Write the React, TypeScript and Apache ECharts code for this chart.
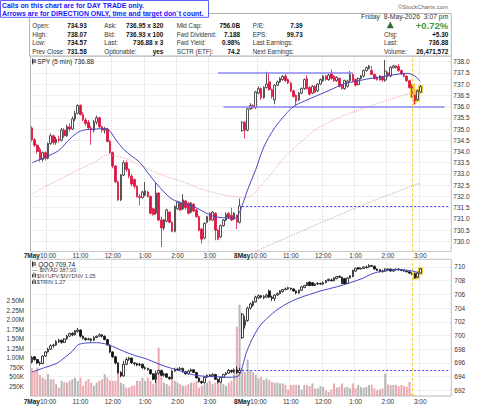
import React, { useEffect, useRef } from 'react';
import * as echarts from 'echarts';

const FONT = '"Liberation Sans", Arial, Helvetica, sans-serif';

// ---------- tick labels ----------
const dayLabels = ['7May', '8May'];
const hourLabels = ['10:00', '11:00', '12:00', '1:00', '2:00', '3:00'];

// ---------- SPY 5-min candles, [open, close, low, high] ----------
const spyDay1 = [
  [735.05, 734.52, 734.45, 735.12], [734.52, 734.28, 734.2, 734.6], [734.28, 734.0, 733.9, 734.35], [734.1, 733.65, 733.55, 734.2],
  [733.65, 733.95, 733.55, 734.0], [733.95, 733.7, 733.6, 734.0], [733.7, 734.35, 733.65, 734.4], [734.35, 734.7, 734.3, 734.8],
  [734.7, 734.4, 734.3, 734.75], [734.4, 734.55, 734.3, 734.65], [734.55, 734.5, 734.4, 734.7], [734.5, 734.95, 734.45, 735.05],
  [734.95, 734.7, 734.6, 735.05], [734.7, 735.1, 734.65, 735.2], [735.1, 735.0, 734.9, 735.25], [735.0, 735.45, 734.95, 735.55],
  [735.45, 735.7, 735.35, 735.8], [735.7, 736.05, 735.65, 736.1], [736.05, 735.65, 735.6, 736.1], [735.65, 735.4, 735.35, 735.75],
  [735.4, 735.25, 735.15, 735.5], [735.3, 735.05, 735.0, 735.4], [735.05, 734.95, 734.3, 735.15], [734.95, 735.3, 734.85, 735.4],
  [735.3, 735.5, 735.2, 735.6], [735.5, 735.1, 735.05, 735.55], [735.1, 734.95, 734.85, 735.15], [734.95, 735.0, 734.8, 735.1],
  [735.0, 734.45, 734.4, 735.05], [734.45, 733.95, 733.9, 734.5], [733.95, 733.35, 733.25, 734.0], [733.35, 732.65, 732.6, 733.4],
  [732.65, 731.85, 731.8, 732.7], [731.85, 732.95, 731.8, 733.0], [732.95, 733.5, 732.9, 733.6], [733.5, 733.2, 733.1, 733.6],
  [733.2, 732.9, 732.8, 733.25], [732.9, 732.55, 732.45, 733.0], [732.75, 732.45, 732.35, 732.8], [732.45, 732.0, 731.95, 732.5],
  [732.0, 731.95, 731.6, 732.1], [731.95, 732.2, 731.9, 732.25], [732.05, 732.25, 732.0, 732.65], [732.2, 732.0, 731.95, 732.25],
  [732.0, 731.25, 731.2, 732.05], [731.45, 731.2, 731.15, 731.5], [731.25, 732.15, 731.2, 732.6], [732.15, 730.95, 730.9, 732.2],
  [730.95, 730.6, 729.75, 731.1], [730.6, 730.95, 730.5, 731.0], [730.9, 731.4, 730.85, 731.45], [731.3, 730.85, 730.8, 731.35],
  [730.85, 730.45, 730.4, 730.9], [730.45, 731.55, 730.4, 731.6], [731.45, 731.75, 731.4, 731.8], [731.7, 731.4, 731.35, 731.75],
  [731.45, 731.85, 731.4, 732.1], [731.8, 731.5, 731.4, 731.85], [731.7, 731.25, 731.2, 731.75], [731.3, 731.7, 731.25, 731.75],
  [731.65, 731.35, 731.3, 731.7], [731.4, 731.1, 731.05, 731.45], [731.1, 730.5, 730.45, 731.15], [730.55, 730.1, 729.9, 730.6],
  [730.15, 730.8, 730.1, 730.85], [730.85, 731.1, 730.8, 731.15], [731.25, 730.95, 730.9, 731.3], [730.95, 731.3, 730.9, 731.35],
  [731.25, 730.5, 730.05, 731.3], [730.5, 730.1, 730.05, 730.55], [730.2, 730.7, 730.15, 730.75], [730.7, 730.95, 730.65, 731.0],
  [730.95, 731.2, 730.9, 731.3], [731.25, 731.05, 731.0, 731.3], [731.15, 730.95, 730.9, 731.5], [731.0, 731.25, 730.95, 731.3],
  [731.15, 730.85, 730.55, 731.2], [730.85, 731.58, 730.8, 731.9],
];
const spyDay2 = [
  [734.93, 735.3, 734.88, 735.35], [735.3, 734.95, 734.57, 735.35], [734.95, 735.9, 734.9, 735.95], [735.9, 736.05, 735.85, 736.15],
  [736.05, 735.95, 735.9, 736.1], [735.95, 736.65, 735.9, 736.7], [736.6, 736.8, 736.55, 736.9], [736.8, 736.4, 736.3, 736.85],
  [736.4, 736.85, 736.35, 736.9], [736.85, 737.0, 736.8, 737.55], [737.1, 736.75, 736.7, 737.5], [736.75, 736.45, 736.35, 736.8],
  [736.3, 736.95, 736.1, 737.0], [736.95, 737.1, 736.9, 737.15], [737.1, 737.25, 737.05, 737.3], [737.2, 737.35, 737.15, 737.4],
  [737.35, 737.15, 737.1, 737.45], [737.2, 737.05, 737.0, 737.25], [737.05, 736.7, 736.65, 737.1], [736.7, 736.45, 736.4, 736.75],
  [736.5, 736.25, 736.05, 736.55], [736.3, 736.6, 736.25, 736.65], [736.6, 736.8, 736.55, 736.85], [736.8, 737.2, 736.75, 737.25],
  [737.25, 736.8, 736.75, 737.4], [736.85, 736.55, 736.5, 736.9], [736.6, 736.9, 736.55, 736.95], [736.9, 736.65, 736.6, 736.95],
  [736.7, 737.0, 736.65, 737.05], [737.0, 737.2, 736.95, 737.25], [737.15, 737.35, 737.1, 737.4], [737.35, 737.2, 737.15, 737.4],
  [737.2, 737.4, 737.15, 737.45], [737.5, 737.25, 737.2, 737.65], [737.35, 737.15, 737.1, 737.4], [737.15, 737.3, 737.1, 737.35],
  [737.25, 736.9, 736.85, 737.3], [736.95, 736.8, 736.75, 737.0], [736.8, 737.15, 736.75, 737.2], [736.9, 737.13, 736.85, 737.2],
  [737.15, 737.43, 737.1, 737.58], [737.43, 737.15, 737.1, 737.48], [737.2, 736.95, 736.9, 737.25], [736.98, 737.25, 736.95, 737.3],
  [737.25, 737.36, 737.2, 737.4], [737.36, 737.6, 737.3, 737.65], [737.6, 737.73, 737.55, 737.78], [737.7, 737.8, 737.65, 737.85],
  [737.6, 737.43, 737.4, 737.81], [737.43, 737.25, 737.2, 737.48], [737.3, 737.2, 737.15, 737.35], [737.2, 737.36, 737.15, 737.4],
  [737.33, 737.18, 737.1, 737.38], [737.18, 737.58, 737.1, 738.07], [737.5, 737.36, 737.3, 737.55], [737.36, 737.75, 737.3, 737.8],
  [737.73, 737.81, 737.7, 737.86], [737.81, 737.73, 737.68, 737.85], [737.78, 737.6, 737.55, 737.9], [737.6, 737.45, 737.4, 737.65],
  [737.45, 737.35, 737.3, 737.5], [737.35, 737.15, 737.1, 737.4], [737.15, 736.85, 736.8, 737.2], [736.95, 736.45, 736.4, 737.0],
  [736.5, 736.25, 736.09, 736.55], [736.3, 736.7, 736.25, 736.75], [736.65, 736.88, 736.6, 736.95],
];

// ---------- QQQ 5-min candles, [open, close, low, high] ----------
const qqqDay1 = [
  [696.1, 696.8, 695.9, 697.0], [696.9, 696.5, 696.3, 697.0], [696.5, 696.0, 695.8, 696.6], [696.0, 695.9, 695.6, 696.2],
  [695.9, 697.0, 695.8, 697.1], [697.0, 697.6, 696.9, 697.7], [697.6, 698.0, 697.5, 698.2], [698.0, 698.5, 697.9, 698.7],
  [698.5, 698.6, 698.2, 698.8], [698.6, 699.1, 698.5, 699.3], [699.1, 699.3, 698.9, 699.5], [699.3, 699.0, 698.8, 699.4],
  [699.0, 699.5, 698.9, 699.6], [699.5, 699.9, 699.4, 700.1], [699.9, 700.3, 699.8, 700.4], [700.3, 700.1, 699.9, 700.5],
  [700.1, 700.7, 700.0, 700.8], [700.6, 700.8, 700.4, 701.1], [700.8, 699.9, 699.7, 700.9], [699.9, 699.6, 699.4, 700.0],
  [699.6, 699.4, 699.2, 699.7], [699.4, 699.5, 699.3, 699.7], [699.5, 699.3, 699.1, 699.6], [699.3, 699.7, 699.2, 699.9],
  [699.7, 699.9, 699.6, 700.0], [699.9, 700.1, 699.8, 700.3], [700.1, 699.9, 699.7, 700.2], [699.9, 699.4, 699.3, 700.0],
  [699.4, 698.6, 698.5, 699.5], [698.6, 697.6, 697.4, 698.7], [697.6, 696.9, 696.7, 697.7], [696.9, 696.0, 695.8, 697.0],
  [696.0, 694.6, 694.4, 696.1], [694.6, 694.1, 693.9, 694.8], [694.1, 695.8, 694.0, 696.3], [695.8, 696.5, 695.7, 696.8],
  [696.5, 696.7, 696.3, 696.9], [696.7, 696.0, 695.9, 696.8], [696.0, 695.9, 695.6, 696.1], [695.9, 695.7, 695.5, 696.0],
  [695.7, 695.8, 695.5, 696.0], [695.8, 695.3, 695.1, 695.9], [695.3, 695.2, 695.0, 695.5], [695.2, 695.0, 694.9, 695.3],
  [695.0, 694.4, 694.3, 695.1], [694.4, 693.6, 693.5, 694.5], [693.6, 694.5, 693.1, 694.9], [694.5, 694.9, 694.3, 695.0],
  [694.9, 694.2, 694.1, 695.0], [694.2, 694.4, 694.0, 694.6], [694.4, 693.9, 693.8, 694.5], [693.9, 693.7, 693.5, 694.0],
  [693.7, 694.8, 693.6, 695.0], [694.8, 695.1, 694.7, 695.3], [695.1, 695.0, 694.9, 695.3], [695.0, 695.2, 694.9, 695.4],
  [695.2, 694.7, 694.6, 695.3], [694.7, 694.4, 694.3, 694.8], [694.4, 694.8, 694.3, 695.0], [694.8, 695.0, 694.7, 695.2],
  [695.0, 694.6, 694.5, 695.1], [694.6, 693.8, 693.7, 694.7], [693.8, 693.3, 693.1, 693.9], [693.3, 693.1, 692.9, 693.4],
  [693.1, 693.9, 693.0, 694.1], [693.9, 694.2, 693.8, 694.3], [694.2, 694.1, 694.0, 694.4], [694.1, 694.3, 694.0, 694.5],
  [694.3, 693.6, 693.5, 694.4], [693.6, 693.2, 693.0, 693.7], [693.2, 693.9, 693.1, 694.0], [693.9, 694.3, 693.8, 694.4],
  [694.3, 694.5, 694.2, 694.7], [694.5, 694.9, 694.4, 695.1], [694.9, 694.7, 694.5, 695.0], [694.7, 695.0, 694.6, 695.2],
  [695.0, 694.6, 694.4, 695.5], [694.6, 694.9, 694.4, 695.3],
];
const qqqDay2 = [
  [699.7, 703.1, 699.5, 703.3], [701.5, 702.2, 701.0, 702.8], [702.2, 704.0, 702.0, 704.2], [704.0, 704.6, 703.8, 704.8],
  [704.4, 704.9, 704.2, 705.1], [704.9, 705.6, 704.8, 705.8], [705.5, 705.8, 705.3, 706.0], [705.8, 705.6, 705.4, 705.9],
  [705.5, 705.7, 705.3, 705.9], [705.6, 705.9, 705.5, 706.1], [706.5, 705.6, 705.5, 706.7], [705.6, 705.4, 705.0, 705.8],
  [705.4, 705.9, 705.0, 706.0], [705.9, 706.1, 705.8, 706.3], [706.1, 706.5, 706.0, 706.6], [706.4, 706.7, 706.3, 706.8],
  [706.7, 706.8, 706.6, 707.0], [706.8, 707.0, 706.7, 707.1], [706.9, 706.8, 706.6, 707.0], [706.8, 706.5, 706.4, 706.9],
  [706.5, 706.2, 706.0, 706.6], [706.2, 706.6, 706.1, 706.7], [706.6, 707.1, 706.5, 707.2], [707.0, 707.3, 706.9, 707.4],
  [707.3, 707.7, 707.2, 707.8], [707.8, 707.3, 707.2, 707.9], [707.7, 707.3, 707.2, 707.8], [707.3, 707.5, 707.2, 707.6],
  [707.5, 707.6, 707.4, 707.8], [707.6, 707.5, 707.4, 707.7], [707.5, 707.7, 707.4, 707.9], [707.7, 708.0, 707.6, 708.1],
  [708.0, 708.2, 707.9, 708.3], [708.1, 708.0, 707.9, 708.3], [708.0, 708.4, 707.9, 708.5], [708.3, 708.6, 708.2, 708.7],
  [708.6, 708.5, 708.4, 708.8], [708.5, 707.6, 707.5, 708.6], [708.3, 707.5, 707.4, 708.4], [707.6, 708.4, 707.5, 708.5],
  [708.4, 708.7, 708.3, 708.8], [708.6, 709.5, 708.5, 709.6], [709.4, 709.8, 709.3, 709.9], [709.9, 709.7, 709.6, 710.0],
  [709.7, 709.8, 709.6, 709.9], [709.8, 710.0, 709.7, 710.1], [709.9, 710.0, 709.8, 710.2], [710.0, 710.2, 709.9, 710.4],
  [710.2, 710.1, 710.0, 710.3], [710.1, 709.7, 709.6, 710.2], [709.7, 709.5, 709.4, 709.8], [709.6, 709.3, 709.2, 709.7],
  [709.3, 709.4, 709.2, 709.6], [709.4, 709.7, 709.3, 709.8], [709.7, 709.6, 709.5, 709.8], [709.7, 709.4, 709.3, 709.8],
  [709.4, 709.6, 709.3, 709.7], [709.6, 709.7, 709.5, 709.8], [709.7, 709.6, 709.5, 709.8], [709.6, 709.5, 709.4, 709.7],
  [709.5, 709.4, 709.3, 709.6], [709.4, 709.3, 709.2, 709.5], [709.3, 709.1, 709.0, 709.4], [709.1, 708.9, 708.8, 709.2],
  [709.0, 708.4, 708.3, 709.1], [708.5, 709.1, 708.4, 709.2], [709.1, 709.74, 709.0, 709.8],
];

// ---------- SPY volume per bar (millions) ----------
const volDay1 = [
  0.73, 0.66, 0.75, 0.55, 0.48, 0.44, 0.57, 0.44, 0.44, 0.31,
  0.22, 0.40, 0.37, 0.35, 0.40, 0.44, 0.48, 0.40, 0.48, 0.27,
  0.40, 0.44, 0.35, 0.27, 0.35, 0.40, 0.44, 0.57, 0.48, 0.40,
  0.40, 0.40, 0.66, 0.35, 0.31, 0.22, 0.22, 0.27, 0.27, 0.40,
  0.40, 0.48, 0.40, 0.48, 0.40, 0.31, 0.57, 1.27, 0.66, 0.35,
  0.31, 0.27, 0.57, 0.40, 0.35, 0.31, 0.27, 0.27, 0.31, 0.35,
  0.35, 0.40, 0.22, 0.27, 0.31, 0.35, 0.40, 0.31, 0.35, 0.40,
  0.48, 0.31, 0.27, 0.35, 0.40, 0.66, 1.82, 2.40,
];
const volDay2 = [
  0.72, 0.63, 0.96, 0.68, 0.63, 0.55, 0.46, 0.50, 0.42, 0.46,
  0.42, 0.37, 0.35, 0.35, 0.33, 0.33, 0.29, 0.17, 0.29, 0.29,
  0.29, 0.29, 0.17, 0.29, 0.29, 0.26, 0.33, 0.20, 0.20, 0.26,
  0.24, 0.15, 0.11, 0.17, 0.33, 0.22, 0.24, 0.33, 0.22, 0.24,
  0.20, 0.33, 0.20, 0.29, 0.24, 0.22, 0.24, 0.29, 0.29, 0.20,
  0.15, 0.17, 0.20, 0.59, 0.31, 0.29, 0.29, 0.29, 0.26, 0.29,
  0.26, 0.24, 0.37, 0.07, 0.02, 0, 0,
];

// ---------- overlays: [bar index, value] ----------
const spyMaBlue = [
  [0, 733.5], [5, 733.75], [10, 734.05], [14, 734.55], [17, 734.85], [20, 734.97], [24, 735.0], [27, 735.03],
  [29, 734.9], [31, 734.55], [34, 734.1], [37, 733.8], [40, 733.52], [43, 733.05], [46, 732.6], [49, 732.2],
  [52, 731.88], [56, 731.7], [60, 731.55], [64, 731.3], [67, 731.13], [71, 731.05], [75, 731.03], [77, 731.3],
  [78, 731.6], [80, 732.3], [83, 733.2], [86, 734.2], [90, 735.05], [94, 735.64], [97, 736.0], [101, 736.24],
  [106, 736.5], [111, 736.76], [116, 737.02], [120, 737.12], [125, 737.24], [130, 737.33], [135, 737.43],
  [139, 737.48], [142, 737.36], [144, 737.12],
];
const spyMaPink = [
  [0, 732.1], [6, 732.5], [11, 732.8], [17, 733.18], [23, 733.5], [28, 733.85], [32, 733.78], [36, 733.63],
  [39, 733.45], [44, 733.18], [50, 732.88], [56, 732.66], [62, 732.36], [69, 732.13], [75, 731.99], [79, 731.95],
  [82, 732.1], [85, 732.5], [88, 732.9], [92, 733.5], [95, 733.9], [100, 734.45], [105, 734.95], [110, 735.3],
  [115, 735.57], [120, 735.8], [125, 736.0], [130, 736.22], [135, 736.4], [140, 736.58], [144, 736.64],
];
const spyMaGray = [[81, 729.45], [98, 730.35], [113, 731.13], [128, 731.87], [144, 732.6]];
const qqqMaBlue = [
  [0, 694.65], [5, 695.35], [9, 695.9], [11, 696.42], [15, 697.7], [17, 698.6], [20, 698.9], [24, 698.95],
  [27, 698.8], [30, 698.4], [34, 697.7], [38, 697.1], [42, 696.65], [48, 695.7], [53, 695.05], [57, 694.6],
  [60, 694.25], [64, 694.05], [68, 693.98], [73, 693.9], [76, 693.98], [77, 694.3], [78, 695.4], [80, 698.0],
  [84, 701.1], [88, 702.8], [93, 704.3], [98, 705.3], [103, 706.0], [108, 706.6], [113, 707.1], [118, 707.7],
  [123, 708.4], [126, 709.0], [130, 709.4], [135, 709.6], [140, 709.5], [142, 709.3], [144, 709.2],
];
// drawn level lines: [from bar, to bar, price]
const spyLevels = [[69, 119, 737.5], [71, 153, 736.0]];
const spyPrevClose = 731.58;
const qqqPrevClose = 694.92;
const markerBar = 141;
const spyHighlightFrom = 141;
const qqqHighlightFrom = 142;

// ---------- header texts ----------
const headerRows = [
  ['Open:', '734.93', 'Ask:', '736.95 x 320', 'Mkt Cap:', '756.0B', 'P/E:', '7.39'],
  ['High:', '738.07', 'Bid:', '736.93 x 100', 'Fwd Dividend:', '7.188', 'EPS:', '99.73'],
  ['Low:', '734.57', 'Last:', '736.88 x 3', 'Fwd Yield:', '0.98%', 'Last Earnings:', ''],
  ['Prev Close:', '731.58', 'Optionable:', 'yes', 'SCTR (ETF):', '74.2', 'Next Earnings:', ''],
];
const quoteRows = [['Chg:', '+5.30'], ['Last:', '736.88'], ['Volume:', '26,471,572']];

// ---------- layout ----------
const PLOT_L = 30.5;
const PLOT_RIGHT_GAP = 28.7;
const MAIN_TOP = 56;
const MAIN_H = 195.5;
const LOW_TOP = 259.3;
const LOW_H = 136.7;
const PINK = '#eca9b2';
const GRAY = '#b7b7b7';
const RED = '#dc1440';
const YELLOW = '#f4cf3c';

function txt(text: string, x: number, y: number, o: any = {}) {
  return {
    type: 'text', z: 100, silent: true,
    style: {
      text, x, y,
      fill: o.fill || '#333',
      fontSize: o.size || 6.3,
      fontWeight: o.weight || 'normal',
      fontFamily: FONT,
      align: o.align || 'left',
      verticalAlign: 'middle',
    },
  };
}

function buildOption() {
  const BARS = 78;
  const categories: string[] = [];
  dayLabels.forEach((day) => {
    for (let j = 0; j < BARS; j++) {
      const t = 570 + 5 * j;
      const h = Math.floor(t / 60);
      const m = t % 60;
      categories.push(`${day} ${h > 12 ? h - 12 : h}:${String(m).padStart(2, '0')}`);
    }
  });
  const labelAt: Record<number, string> = {};
  const gridAt = new Set<number>();
  dayLabels.forEach((day, d) => {
    hourLabels.forEach((hl, k) => {
      const idx = d * BARS + 6 + 12 * k;
      gridAt.add(idx);
      if (k === 0) labelAt[d * BARS + 3] = `{d|${day}}${hl}`;
      else labelAt[idx] = hl;
    });
  });

  const spy = [...spyDay1, ...spyDay2];
  const qqq = [...qqqDay1, ...qqqDay2];
  const vol = [...volDay1, ...volDay2];
  const spyHi = spy.map((d, i) => (i >= spyHighlightFrom ? d : '-'));
  const qqqHi = qqq.map((d, i) => (i >= qqqHighlightFrom ? d : '-'));
  const volData = vol.map((v, i) => ({
    value: v,
    itemStyle: { color: spy[i][1] < spy[i][0] ? PINK : GRAY },
  }));

  const xAxis = (gridIndex: number, margin: number) => ({
    type: 'category', gridIndex, data: categories, boundaryGap: true,
    axisLine: { show: false }, axisTick: { show: false },
    axisLabel: {
      interval: (i: number) => labelAt[i] !== undefined,
      formatter: (_v: string, i: number) => labelAt[i] ?? '',
      fontSize: 6.5, fontFamily: FONT, color: '#333', margin,
      rich: { d: { fontWeight: 'bold', fontSize: 6.5, fontFamily: FONT, color: '#222' } },
    },
    splitLine: {
      show: true, interval: (i: number) => gridAt.has(i),
      lineStyle: { color: '#d9d9d9', type: 'dotted', width: 1 },
    },
  });

  const axisText = { fontSize: 6.5, fontFamily: FONT, color: '#333' };
  const dotted = { color: '#dedede', type: 'dotted', width: 1 };

  const maLine = (data: number[][], xi: number, yi: number, color: string, type: any, z: number) => ({
    type: 'line', xAxisIndex: xi, yAxisIndex: yi, data, symbol: 'none', smooth: 0.35,
    lineStyle: { color, width: 1, type }, z, silent: true,
  });

  const catOf = (i: number) => categories[Math.min(i, categories.length - 1)];

  const candleStyle = (up: string, upBorder: string, down: string, downBorder: string, bw: number) => ({
    color: up, color0: down, borderColor: upBorder, borderColor0: downBorder, borderWidth: bw,
  });

  const graphic: any[] = [
    // callout box
    { type: 'rect', z: 99, shape: { x: 0.5, y: 0.5, width: 208, height: 16.8 }, style: { fill: '#fff', stroke: '#5c5cff', lineWidth: 1 } },
    txt('Calls on this chart are for DAY TRADE only.', 2, 5, { size: 6.9, weight: 'bold', fill: '#1818ff' }),
    txt('Arrows are for DIRECTION ONLY, time and target don`t count.', 2, 13.4, { size: 6.9, weight: 'bold', fill: '#1818ff' }),
    txt('©StockCharts.com', 448, 6.5, { size: 6, fill: '#666', align: 'right' }),
    // info box
    { type: 'rect', z: 98, shape: { x: 29.5, y: 13.5, width: 421.8, height: 42.5 }, style: { fill: '#fff', stroke: '#b4b4b4', lineWidth: 1 } },
    txt('Friday  8-May-2026  3:07 pm', 448.3, 16.3, { size: 6.8, align: 'right', fill: '#333' }),
    { type: 'polygon', z: 100, shape: { points: [[386.8, 28.3], [393.8, 28.3], [390.3, 21.6]] }, style: { fill: '#2f6f2f' } },
    txt('+0.72%', 448.3, 25, { size: 9.5, weight: 'bold', align: 'right', fill: '#3c9a3c' }),
  ];
  const rowY = [25, 34, 42.7, 51];
  const labelX = [32.3, 104.3, 176.7, 252.7];
  const valueR = [86.7, 163.3, 240, 302.7];
  headerRows.forEach((row, r) => {
    for (let c = 0; c < 4; c++) {
      graphic.push(txt(row[2 * c], labelX[c], rowY[r], { fill: '#333' }));
      if (row[2 * c + 1]) graphic.push(txt(row[2 * c + 1], valueR[c], rowY[r], { size: 6.4, weight: 'bold', align: 'right', fill: '#111' }));
    }
  });
  quoteRows.forEach((row, r) => {
    graphic.push(txt(row[0], 384, rowY[r + 1], { fill: '#333' }));
    graphic.push(txt(row[1], 448.3, rowY[r + 1], { size: 6.4, weight: 'bold', align: 'right', fill: '#111' }));
  });
  // panel legends
  graphic.push(
    { type: 'line', z: 100, shape: { x1: 32.7, y1: 58.2, x2: 32.7, y2: 64.6 }, style: { stroke: '#222', lineWidth: 0.6 } },
    { type: 'rect', z: 100, shape: { x: 32, y: 59.2, width: 1.4, height: 4.2 }, style: { fill: '#222' } },
    { type: 'rect', z: 100, shape: { x: 34.3, y: 59.6, width: 1.3, height: 3 }, style: { fill: '#fff', stroke: '#222', lineWidth: 0.6 } },
    txt('SPY (5 min) 736.88', 37.3, 61.3, { size: 6.5, fill: '#222' }),
    { type: 'line', z: 100, shape: { x1: 32.7, y1: 261, x2: 32.7, y2: 267.2 }, style: { stroke: '#222', lineWidth: 0.6 } },
    { type: 'rect', z: 100, shape: { x: 32, y: 262, width: 1.4, height: 4.2 }, style: { fill: '#222' } },
    { type: 'rect', z: 100, shape: { x: 34.3, y: 262.4, width: 1.3, height: 3 }, style: { fill: '#fff', stroke: '#222', lineWidth: 0.6 } },
    txt('QQQ 709.74', 38.3, 264, { size: 6.5, fill: '#222' }),
    txt('— $NYAD 387.00', 32.3, 269.6, { size: 5.6, fill: '#444' }),
    { type: 'rect', z: 100, shape: { x: 32, y: 274, width: 0.9, height: 3.4 }, style: { fill: '#333' } },
    { type: 'rect', z: 100, shape: { x: 33.5, y: 272.6, width: 0.9, height: 4.8 }, style: { fill: '#333' } },
    { type: 'rect', z: 100, shape: { x: 35, y: 273.6, width: 0.9, height: 3.8 }, style: { fill: '#333' } },
    txt('$NYUPV:$NYDNV 1.05', 36.8, 275.8, { size: 5.6, fill: '#444' }),
    { type: 'rect', z: 100, shape: { x: 32, y: 280.6, width: 0.9, height: 3.4 }, style: { fill: '#333' } },
    { type: 'rect', z: 100, shape: { x: 33.5, y: 279.2, width: 0.9, height: 4.8 }, style: { fill: '#333' } },
    { type: 'rect', z: 100, shape: { x: 35, y: 280.2, width: 0.9, height: 3.8 }, style: { fill: '#333' } },
    txt('$TRIN 1.27', 36.8, 282.4, { size: 5.6, fill: '#444' }),
  );

  return {
    animation: false,
    backgroundColor: '#ffffff',
    textStyle: { fontFamily: FONT },
    grid: [
      { left: PLOT_L, right: PLOT_RIGHT_GAP, top: MAIN_TOP, height: MAIN_H, show: true, borderColor: '#b4b4b4', borderWidth: 1, backgroundColor: 'transparent' },
      { left: PLOT_L, right: PLOT_RIGHT_GAP, top: LOW_TOP, height: LOW_H, show: true, borderColor: '#b4b4b4', borderWidth: 1, backgroundColor: 'transparent' },
    ],
    xAxis: [xAxis(0, 0.6), xAxis(1, 1.6)],
    yAxis: [
      {
        type: 'value', gridIndex: 0, position: 'right', min: 729.55, max: 738.25, splitNumber: 17,
        axisLine: { show: false }, axisTick: { show: false },
        axisLabel: { ...axisText, margin: 2, showMinLabel: false, showMaxLabel: false, formatter: (v: number) => v.toFixed(1) },
        splitLine: { show: true, lineStyle: dotted },
      },
      {
        type: 'value', gridIndex: 1, position: 'right', min: 691.17, max: 711.12, splitNumber: 10,
        axisLine: { show: false }, axisTick: { show: false },
        axisLabel: { ...axisText, margin: 3, showMinLabel: false, showMaxLabel: false, formatter: (v: number) => String(Math.round(v)) },
        splitLine: { show: true, lineStyle: dotted },
      },
      {
        type: 'value', gridIndex: 1, position: 'left', min: 0, max: 3.59, interval: 0.25,
        axisLine: { show: false }, axisTick: { show: false },
        axisLabel: {
          ...axisText, fontSize: 6.3, margin: 6.5, showMinLabel: false, showMaxLabel: false,
          formatter: (v: number) => (v <= 0 || v > 2.5001 ? '' : v >= 1 ? `${v.toFixed(2)}M` : `${Math.round(v * 1000)}K`),
        },
        splitLine: { show: false },
      },
    ],
    graphic,
    series: [
      {
        type: 'candlestick', name: 'SPY glow', xAxisIndex: 0, yAxisIndex: 0, data: spyHi, barWidth: 2.2, z: 2, silent: true,
        itemStyle: candleStyle(YELLOW, YELLOW, YELLOW, YELLOW, 3.2),
      },
      {
        type: 'candlestick', name: 'SPY', xAxisIndex: 0, yAxisIndex: 0, data: spy, barWidth: 2.1, z: 3, silent: true,
        itemStyle: candleStyle('#ffffff', '#2a2a2a', RED, RED, 0.8),
      },
      maLine(spyMaPink, 0, 0, '#f0a2ac', 'dotted', 4),
      maLine(spyMaGray, 0, 0, '#bba9a9', 'dotted', 4),
      {
        ...maLine(spyMaBlue, 0, 0, '#4848c4', 'solid', 5),
        markLine: {
          symbol: ['none', 'none'], silent: true, label: { show: false },
          data: [
            ...spyLevels.map(([a, b, v]) => [
              { coord: [catOf(a), v], lineStyle: { color: '#8a8af3', width: 1.6, type: 'solid' } },
              { coord: [catOf(b), v] },
            ]),
            [
              { coord: [catOf(78), spyPrevClose], lineStyle: { color: '#4040ff', width: 1, type: [2, 2] } },
              { coord: [catOf(155), spyPrevClose] },
            ],
            { xAxis: catOf(markerBar), lineStyle: { color: YELLOW, width: 1, type: [3, 2] } },
          ],
        },
      },
      {
        type: 'bar', name: 'Volume', xAxisIndex: 1, yAxisIndex: 2, data: volData, barWidth: 2, z: 1, silent: true,
      },
      {
        type: 'candlestick', name: 'QQQ glow', xAxisIndex: 1, yAxisIndex: 1, data: qqqHi, barWidth: 2.2, z: 2, silent: true,
        itemStyle: candleStyle(YELLOW, YELLOW, YELLOW, YELLOW, 3.2),
      },
      {
        type: 'candlestick', name: 'QQQ', xAxisIndex: 1, yAxisIndex: 1, data: qqq, barWidth: 2.1, z: 3, silent: true,
        itemStyle: candleStyle('#ffffff', '#111111', '#111111', '#111111', 0.8),
      },
      {
        ...maLine(qqqMaBlue, 1, 1, '#4848c4', 'solid', 5),
        markLine: {
          symbol: ['none', 'none'], silent: true, label: { show: false },
          data: [
            [
              { coord: [catOf(78), qqqPrevClose], lineStyle: { color: '#4040ff', width: 1, type: [2, 2] } },
              { coord: [catOf(155), qqqPrevClose] },
            ],
            { xAxis: catOf(markerBar), lineStyle: { color: YELLOW, width: 1, type: [3, 2] } },
          ],
        },
      },
    ],
  };
}

export default function App() {
  const ref = useRef<HTMLDivElement>(null);
  useEffect(() => {
    if (!ref.current) return;
    const chart = echarts.init(ref.current, null, { renderer: 'svg' });
    chart.setOption(buildOption() as any);
    return () => chart.dispose();
  }, []);
  return (
    <div
      ref={ref}
      style={{ position: 'absolute', left: 0, top: 0, width: 480, height: 406, background: '#fff' }}
    />
  );
}
